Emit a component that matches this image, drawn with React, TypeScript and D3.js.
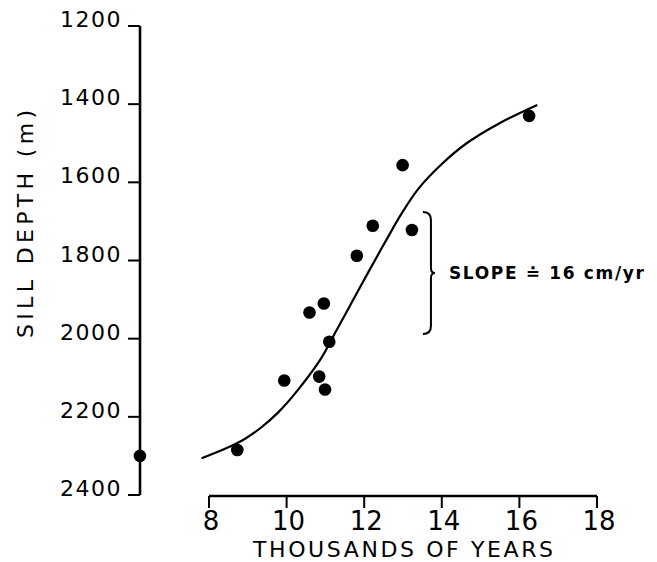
import React from "react";
import * as d3 from "d3";

// ---- data ----
const xTicks = [8, 10, 12, 14, 16, 18];
const yTicks = [1200, 1400, 1600, 1800, 2000, 2200, 2400];

const pointYears = [6.22, 8.73, 9.94, 10.59, 10.84, 10.96, 10.99, 11.1, 11.81, 12.22, 12.99, 13.23, 16.25];
const pointDepths = [2300, 2285, 2107, 1933, 2097, 1910, 2130, 2008, 1788, 1711, 1556, 1722, 1430];

const curveYears = [7.81, 8.5, 8.93, 9.36, 9.79, 10.22, 10.86, 11.29, 11.72, 12.15, 12.55, 12.95, 13.4, 14.0, 14.64, 15.5, 16.46];
const curveDepths = [2306, 2278, 2256, 2226, 2188, 2140, 2055, 1978, 1900, 1822, 1751, 1682, 1616, 1553, 1500, 1448, 1402];

const braceYear = 13.72;
const braceTop = 1676;
const braceBottom = 1988;
const slopeLabel = "SLOPE \u2250 16 cm/yr";

const xTitle = "THOUSANDS OF YEARS";
const yTitle = "SILL DEPTH (m)";

const W = 657;
const H = 562;
const FONT = "'DejaVu Sans', sans-serif";

export default function App() {
  const x = d3.scaleLinear().domain([8, 18]).range([209, 597]);
  const y = d3.scaleLinear().domain([1200, 2400]).range([26, 495]);

  const line = d3
    .line<number>()
    .x((_, i) => x(curveYears[i]))
    .y((d) => y(d))
    .curve(d3.curveCatmullRom.alpha(0.5));

  const bx = x(braceYear);
  const bt = y(braceTop);
  const bb = y(braceBottom);
  const bm = (bt + bb) / 2;
  const bracePath = [
    `M${bx - 8},${bt}`,
    `Q${bx},${bt} ${bx},${bt + 8}`,
    `L${bx},${bm - 5}`,
    `Q${bx},${bm} ${bx + 4},${bm}`,
    `Q${bx},${bm} ${bx},${bm + 5}`,
    `L${bx},${bb - 8}`,
    `Q${bx},${bb} ${bx - 8},${bb}`,
  ].join(" ");

  const x0 = x.range()[0];
  const axisY = 496;
  const yAxisX = 140;

  return (
    <svg
      width={W}
      height={H}
      style={{ position: "absolute", left: 0, top: 0, background: "#fff" }}
    >
      <rect width={W} height={H} fill="#fff" />
      {/* y axis */}
      <line x1={yAxisX} x2={yAxisX} y1={y(1200)} y2={y(2400)} stroke="#000" strokeWidth={2.6} />
      {yTicks.map((t) => (
        <g key={t}>
          <line x1={yAxisX - 12} x2={yAxisX} y1={y(t)} y2={y(t)} stroke="#000" strokeWidth={2} />
          <text
            x={122}
            y={y(t) + 1}
            textAnchor="end"
            fontFamily={FONT}
            fontSize={22}
            letterSpacing={1.5}
            fill="#000"
          >
            {t}
          </text>
        </g>
      ))}
      <text
        transform={`translate(33,224) rotate(-90)`}
        textAnchor="middle"
        fontFamily={FONT}
        fontSize={22}
        textLength={228}
        lengthAdjust="spacing"
        fill="#000"
      >
        {yTitle}
      </text>

      {/* x axis */}
      <line x1={x0} x2={x(18)} y1={axisY} y2={axisY} stroke="#000" strokeWidth={2.6} />
      {xTicks.map((t) => (
        <g key={t}>
          <line x1={x(t)} x2={x(t)} y1={axisY} y2={axisY + 12} stroke="#000" strokeWidth={2} />
          <text
            x={x(t) + 2}
            y={530}
            textAnchor="middle"
            fontFamily={FONT}
            fontSize={26}
            fill="#000"
          >
            {t}
          </text>
        </g>
      ))}
      <text
        x={403}
        y={557}
        textAnchor="middle"
        fontFamily={FONT}
        fontSize={22}
        textLength={300}
        lengthAdjust="spacing"
        fill="#000"
      >
        {xTitle}
      </text>

      {/* fitted curve */}
      <path d={line(curveDepths) || ""} fill="none" stroke="#000" strokeWidth={2.2} />

      {/* points */}
      {pointYears.map((yr, i) => (
        <circle key={i} cx={x(yr)} cy={y(pointDepths[i])} r={6.3} fill="#000" />
      ))}

      {/* brace + label */}
      <path d={bracePath} fill="none" stroke="#000" strokeWidth={2} />
      <text
        x={bx + 18}
        y={bm + 6}
        fontFamily={FONT}
        fontSize={17}
        fontWeight="bold"
        textLength={195}
        lengthAdjust="spacing"
        fill="#000"
      >
        {slopeLabel}
      </text>
    </svg>
  );
}
